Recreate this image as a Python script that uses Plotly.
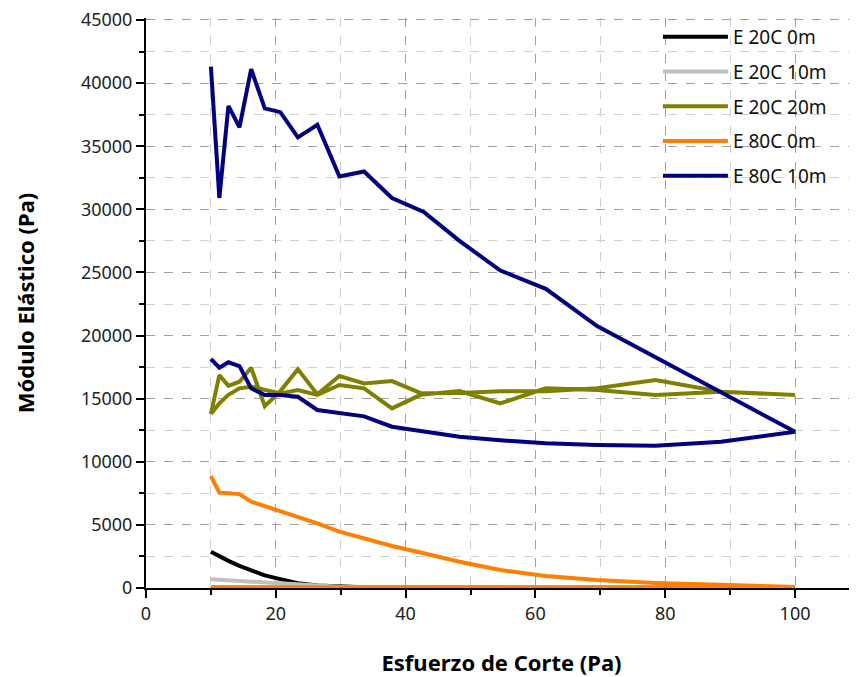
import plotly.graph_objects as go

# Shear stress steps (Pa), ramp up; the return ramp uses the same steps reversed
stress_up = [10, 11.3, 12.7, 14.4, 16.2, 18.3, 20.7, 23.4, 26.4, 29.8, 33.6, 37.9,
             42.8, 48.3, 54.6, 61.6, 69.5, 78.5, 88.6, 100]
stress_down = list(reversed(stress_up))

# E 20C 0m
e20_0_up = [2880, 2500, 2150, 1750, 1400, 1000, 700, 380, 200, 100, 50, 30,
            20, 15, 10, 10, 10, 10, 10, 10]
e20_0_down = [10, 10, 10, 10, 10, 10, 10, 10, 10, 10, 10, 10,
              10, 10, 10, 10, 10, 10, 10, 20]
# E 20C 10m
e20_10_up = [690, 650, 610, 560, 510, 450, 380, 280, 180, 100, 50, 25,
             20, 15, 10, 10, 10, 10, 10, 10]
e20_10_down = [10, 10, 10, 10, 10, 10, 10, 10, 10, 10, 10, 10,
               10, 10, 10, 10, 10, 10, 10, 20]
# E 20C 20m
e20_20_up = [13780, 14630, 15300, 15820, 15950, 15700, 15420, 15680, 15290, 16080, 15820, 14230,
             15420, 15450, 15580, 15580, 15820, 16470, 15550, 15290]
e20_20_down = [15290, 15550, 15290, 15680, 15820, 14630, 15600, 15340,
               16390, 16210, 16790, 15340, 17340, 15600, 14410, 17450, 16340, 16020, 16870, 13780]
# E 80C 0m
e80_0_up = [8870, 7550, 7500, 7440, 6840, 6490, 6040, 5650, 5120, 4460, 3940, 3330,
            2750, 2080, 1430, 950, 630, 400, 250, 80]
e80_0_down = [80, 60, 55, 55, 50, 50, 50, 50, 50, 50, 50, 50,
              50, 50, 50, 50, 50, 50, 50, 50]
# E 80C 10m
e80_10_up = [18150, 17450, 17880, 17580, 15820, 15290, 15290, 15150, 14100, 13840, 13600, 12780,
             12380, 11980, 11700, 11460, 11330, 11270, 11590, 12380]
e80_10_down = [12380, 15500, 18300, 20750, 23700, 25150, 27500, 29800, 30900, 33000, 32600, 36700,
               35700, 37700, 38000, 41100, 36500, 38200, 30900, 41300]

names = ["E 20C 0m", "E 20C 10m", "E 20C 20m", "E 80C 0m", "E 80C 10m"]
colors = ["#000000", "#c0c0c0", "#808000", "#ff8000", "#000080"]
series = [
    (e20_0_up, e20_0_down),
    (e20_10_up, e20_10_down),
    (e20_20_up, e20_20_down),
    (e80_0_up, e80_0_down),
    (e80_10_up, e80_10_down),
]

FONT = "Noto Sans"

fig = go.Figure()
for i, (name, color, (up, down)) in enumerate(zip(names, colors, series)):
    fig.add_trace(go.Scatter(
        x=stress_up + stress_down,
        y=up + down,
        mode="lines",
        name=name,
        legendgroup=f"g{i}",
        line=dict(color=color, width=4),
    ))

fig.update_layout(
    width=849, height=669,
    margin=dict(l=138, r=0, t=10, b=89),
    plot_bgcolor="white", paper_bgcolor="white",
    font=dict(family=FONT, size=18, color="#222222"),
    showlegend=True,
    legend=dict(
        x=0.72, y=1.0, xanchor="left", yanchor="top",
        bgcolor="rgba(255,255,255,0)",
        font=dict(family=FONT, size=19, color="#111111"),
        itemwidth=65, tracegroupgap=7,
        traceorder="grouped",
    ),
    xaxis=dict(
        range=[0, 109.55],
        tickmode="linear", tick0=0, dtick=20,
        showline=True, linecolor="black", linewidth=2,
        ticks="outside", ticklen=8, tickwidth=2, tickcolor="black",
        showgrid=True, gridcolor="#a0a0a0", griddash="dash", gridwidth=1,
        minor=dict(dtick=10, ticks="outside", ticklen=5, tickwidth=2, tickcolor="black",
                   showgrid=True, gridcolor="#d0d0d0", griddash="dash", gridwidth=1),
        zeroline=False, automargin=False, ticklabeloverflow="allow",
        tickfont=dict(family=FONT, size=18, color="#222222"),
        title=dict(text="<b>Esfuerzo de Corte (Pa)</b>", standoff=32,
                   font=dict(family=FONT, size=22, color="#000000")),
    ),
    yaxis=dict(
        range=[0, 45158],
        tickmode="linear", tick0=0, dtick=5000, tickformat="d",
        showline=True, linecolor="black", linewidth=2,
        ticks="outside", ticklen=8, tickwidth=2, tickcolor="black",
        showgrid=True, gridcolor="#a0a0a0", griddash="dash", gridwidth=1,
        minor=dict(dtick=2500, ticks="outside", ticklen=5, tickwidth=2, tickcolor="black",
                   showgrid=True, gridcolor="#d0d0d0", griddash="dash", gridwidth=1),
        zeroline=False, automargin=False, ticklabeloverflow="allow",
        tickfont=dict(family=FONT, size=18, color="#222222"),
        title=dict(text="<b>Módulo Elástico (Pa)</b>", standoff=40,
                   font=dict(family=FONT, size=22, color="#000000")),
    ),
)

fig.write_html("out.html")
